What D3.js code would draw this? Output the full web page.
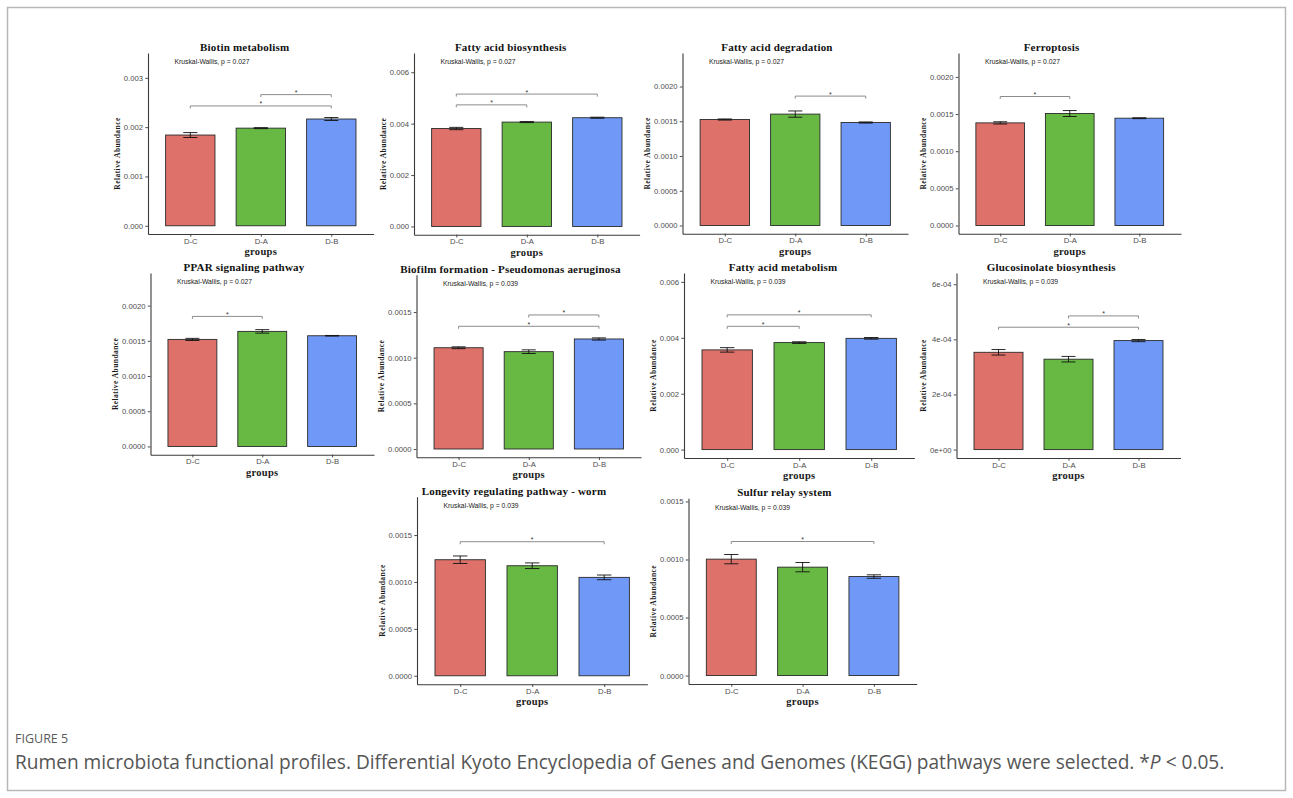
<!DOCTYPE html>
<html>
<head>
<meta charset="utf-8">
<script src="https://cdn.jsdelivr.net/npm/d3@7"></script>
<style>
  body { margin: 0; background: #fff; }
  svg { display: block; }
</style>
</head>
<body>
<svg id="fig" width="1293" height="798"></svg>
<script>
// ---- data ----
const groups = ["D-C", "D-A", "D-B"];

const pathwayTitles = [
  "Biotin metabolism",
  "Fatty acid biosynthesis",
  "Fatty acid degradation",
  "Ferroptosis",
  "PPAR signaling pathway",
  "Biofilm formation - Pseudomonas aeruginosa",
  "Fatty acid metabolism",
  "Glucosinolate biosynthesis",
  "Longevity regulating pathway - worm",
  "Sulfur relay system"
];

const kruskalP = ["0.027", "0.027", "0.027", "0.027", "0.027",
                  "0.039", "0.039", "0.039", "0.039", "0.039"];

// mean relative abundance per group (D-C, D-A, D-B)
const meanAbundance = [
  [1.840e-3, 1.980e-3, 2.165e-3],
  [3.810e-3, 4.060e-3, 4.230e-3],
  [1.525e-3, 1.603e-3, 1.482e-3],
  [1.381e-3, 1.507e-3, 1.444e-3],
  [1.520e-3, 1.634e-3, 1.572e-3],
  [1.109e-3, 1.066e-3, 1.205e-3],
  [3.567e-3, 3.828e-3, 3.980e-3],
  [3.530e-4, 3.280e-4, 3.955e-4],
  [1.237e-3, 1.173e-3, 1.049e-3],
  [1.003e-3, 0.934e-3, 0.853e-3]
];

// standard error per group
const seAbundance = [
  [0.050e-3, 0.010e-3, 0.030e-3],
  [0.045e-3, 0.020e-3, 0.020e-3],
  [0.008e-3, 0.045e-3, 0.008e-3],
  [0.015e-3, 0.040e-3, 0.006e-3],
  [0.015e-3, 0.025e-3, 0.004e-3],
  [0.010e-3, 0.020e-3, 0.012e-3],
  [0.080e-3, 0.030e-3, 0.030e-3],
  [0.100e-4, 0.100e-4, 0.040e-4],
  [0.040e-3, 0.030e-3, 0.025e-3],
  [0.040e-3, 0.040e-3, 0.015e-3]
];

// upper data limit of each panel (position of the Kruskal-Wallis label)
const yDataMax = [3.337e-3, 6.427e-3, 2.364e-3, 2.211e-3, 2.346e-3,
                  1.818e-3, 6.017e-3, 6.102e-4, 1.818e-3, 1.4545e-3];

const yTicks = [
  [0, 0.001, 0.002, 0.003],
  [0, 0.002, 0.004, 0.006],
  [0, 0.0005, 0.001, 0.0015, 0.002],
  [0, 0.0005, 0.001, 0.0015, 0.002],
  [0, 0.0005, 0.001, 0.0015, 0.002],
  [0, 0.0005, 0.001, 0.0015],
  [0, 0.002, 0.004, 0.006],
  [0, 2e-4, 4e-4, 6e-4],
  [0, 0.0005, 0.001, 0.0015],
  [0, 0.0005, 0.001, 0.0015]
];

const yTickLabels = [
  ["0.000", "0.001", "0.002", "0.003"],
  ["0.000", "0.002", "0.004", "0.006"],
  ["0.0000", "0.0005", "0.0010", "0.0015", "0.0020"],
  ["0.0000", "0.0005", "0.0010", "0.0015", "0.0020"],
  ["0.0000", "0.0005", "0.0010", "0.0015", "0.0020"],
  ["0.0000", "0.0005", "0.0010", "0.0015"],
  ["0.000", "0.002", "0.004", "0.006"],
  ["0e+00", "2e-04", "4e-04", "6e-04"],
  ["0.0000", "0.0005", "0.0010", "0.0015"],
  ["0.0000", "0.0005", "0.0010", "0.0015"]
];

// pairwise comparisons: [group index a, group index b, bracket height]
const comparisons = [
  [[0, 2, 2.43e-3], [1, 2, 2.66e-3]],
  [[0, 1, 4.73e-3], [0, 2, 5.15e-3]],
  [[1, 2, 1.862e-3]],
  [[0, 1, 1.736e-3]],
  [[0, 1, 1.847e-3]],
  [[0, 2, 1.344e-3], [1, 2, 1.468e-3]],
  [[0, 1, 4.41e-3], [0, 2, 4.82e-3]],
  [[0, 2, 4.44e-4], [1, 2, 4.85e-4]],
  [[0, 2, 1.429e-3]],
  [[0, 2, 1.155e-3]]
];

const groupColors = ["#DE716A", "#67B944", "#7099F7"];

// ---- layout: plotting area of every panel [left, right, top, bottom] ----
const panelFrames = [
  [148.0, 373.6, 53.0, 234.0],
  [414.0, 639.6, 53.0, 234.7],
  [682.5, 908.0, 53.0, 233.7],
  [958.5, 1181.0, 53.0, 233.7],
  [150.5, 374.0, 273.0, 454.7],
  [416.5, 641.0, 274.7, 457.3],
  [684.0, 914.4, 273.0, 458.0],
  [956.5, 1180.5, 273.0, 458.0],
  [417.0, 647.4, 496.7, 684.3],
  [688.5, 916.7, 498.3, 684.0]
];

const serif = "'Liberation Serif', 'Times New Roman', serif";
const sans = "'Liberation Sans', Arial, Helvetica, sans-serif";

const svg = d3.select("#fig");

// outer frame of the figure
svg.append("rect")
  .attr("x", 7.5).attr("y", 7.5)
  .attr("width", 1278).attr("height", 783)
  .attr("fill", "none")
  .attr("stroke", "#b8b8b8")
  .attr("stroke-width", 1.5);

pathwayTitles.forEach((title, i) => {
  const [L, R, T, B] = panelFrames[i];
  const M = yDataMax[i];
  const x = d3.scalePoint().domain(groups).range([L, R]).padding(0.6);
  const step = x.step();
  const y = d3.scaleLinear().domain([-0.05 * M, 1.05 * M]).range([B, T]);
  const g = svg.append("g").attr("class", "panel");

  const rows = groups.map((grp, j) => ({
    grp, j, mean: meanAbundance[i][j], se: seAbundance[i][j]
  }));

  // bars
  g.selectAll("rect.bar").data(rows).join("rect")
    .attr("class", "bar")
    .attr("x", d => x(d.grp) - 0.35 * step)
    .attr("width", 0.7 * step)
    .attr("y", d => y(d.mean))
    .attr("height", d => y(0) - y(d.mean))
    .attr("fill", d => groupColors[d.j])
    .attr("stroke", "#2a2a2a")
    .attr("stroke-width", 0.9);

  // error bars
  const eb = g.selectAll("g.err").data(rows).join("g").attr("class", "err")
    .attr("stroke", "#111").attr("stroke-width", 0.9).attr("fill", "none");
  const capHalf = 0.1 * step;
  eb.append("line")
    .attr("x1", d => x(d.grp)).attr("x2", d => x(d.grp))
    .attr("y1", d => y(d.mean - d.se)).attr("y2", d => y(d.mean + d.se));
  eb.append("line")
    .attr("x1", d => x(d.grp) - capHalf).attr("x2", d => x(d.grp) + capHalf)
    .attr("y1", d => y(d.mean + d.se)).attr("y2", d => y(d.mean + d.se));
  eb.append("line")
    .attr("x1", d => x(d.grp) - capHalf).attr("x2", d => x(d.grp) + capHalf)
    .attr("y1", d => y(d.mean - d.se)).attr("y2", d => y(d.mean - d.se));

  // axes
  const yAxis = d3.axisLeft(y)
    .tickValues(yTicks[i])
    .tickFormat((d, k) => yTickLabels[i][k])
    .tickSize(2.75).tickSizeOuter(0).tickPadding(2.2);
  const ya = g.append("g").attr("transform", `translate(${L},0)`).call(yAxis);

  const xAxis = d3.axisBottom(x).tickSize(2.75).tickSizeOuter(0).tickPadding(1.5);
  const xa = g.append("g").attr("transform", `translate(0,${B})`).call(xAxis);

  [ya, xa].forEach(ax => {
    ax.select(".domain").attr("stroke", "#3a3a3a").attr("stroke-width", 1.1);
    ax.selectAll(".tick line").attr("stroke", "#3a3a3a").attr("stroke-width", 0.9);
    ax.selectAll(".tick text")
      .attr("fill", "#4d4d4d")
      .style("font-family", sans)
      .style("font-size", "7.7px");
  });

  // y axis title placed left of the widest tick label
  let minLeft = L;
  ya.selectAll(".tick text").each(function () {
    const bb = this.getBBox();
    const ctm = this.getCTM();
    minLeft = Math.min(minLeft, bb.x + ctm.e);
  });
  const labX = minLeft - 4;
  const labY = (T + B) / 2 + 10;
  g.append("text")
    .attr("transform", `translate(${labX},${labY}) rotate(-90)`)
    .attr("text-anchor", "middle")
    .style("font-family", serif)
    .style("font-weight", "bold")
    .style("font-size", "7.5px")
    .style("letter-spacing", "0.45px")
    .attr("fill", "#1a1a1a")
    .text("Relative Abundance");

  // x axis title
  g.append("text")
    .attr("x", (L + R) / 2).attr("y", B + 21)
    .attr("text-anchor", "middle")
    .style("font-family", serif)
    .style("font-weight", "bold")
    .style("font-size", "10.5px")
    .style("letter-spacing", "0.3px")
    .attr("fill", "#1a1a1a")
    .text("groups");

  // panel title, centred across the whole sub-plot
  g.append("text")
    .attr("x", (labX - 4 + R) / 2).attr("y", T - 2)
    .attr("text-anchor", "middle")
    .style("font-family", serif)
    .style("font-weight", "bold")
    .style("font-size", "11px")
    .style("letter-spacing", "0.2px")
    .attr("fill", "#111")
    .text(title);

  // global test label
  g.append("text")
    .attr("x", L + 26.5).attr("y", y(M) + 2.8)
    .style("font-family", sans)
    .style("font-size", "6.8px")
    .attr("fill", "#1a1a1a")
    .text(`Kruskal-Wallis, p = ${kruskalP[i]}`);

  // significance brackets
  const tip = 2.5;
  comparisons[i].forEach(([a, b, h]) => {
    const xa0 = x(groups[a]), xb0 = x(groups[b]), yy = y(h);
    g.append("path")
      .attr("d", `M${xa0},${yy + tip}L${xa0},${yy}L${xb0},${yy}L${xb0},${yy + tip}`)
      .attr("fill", "none")
      .attr("stroke", "#8c8c8c")
      .attr("stroke-width", 1);
    g.append("text")
      .attr("x", (xa0 + xb0) / 2).attr("y", yy + 0.5)
      .attr("text-anchor", "middle")
      .style("font-family", sans)
      .style("font-size", "7px")
      .attr("fill", "#333")
      .text("*");
  });
});

// caption
svg.append("text")
  .attr("x", 15).attr("y", 742.5)
  .style("font-family", "'Open Sans', 'Noto Sans', sans-serif")
  .style("font-size", "12.5px")
  .attr("fill", "#5a5a5a")
  .text("FIGURE 5");

const cap = svg.append("text")
  .attr("x", 15).attr("y", 768.5)
  .style("font-family", "'Open Sans', 'Noto Sans', sans-serif")
  .style("font-size", "16px")
  .attr("fill", "#555");
cap.append("tspan").text("Rumen microbiota functional profiles. Differential Kyoto Encyclopedia of Genes and Genomes (KEGG) pathways were selected. *");
cap.append("tspan").style("font-style", "italic").text("P");
cap.append("tspan").text(" < 0.05.");
// fit the caption to its line width
const capW = cap.node().getComputedTextLength();
cap.style("font-size", (16 * 1210 / capW).toFixed(2) + "px");
</script>
</body>
</html>
